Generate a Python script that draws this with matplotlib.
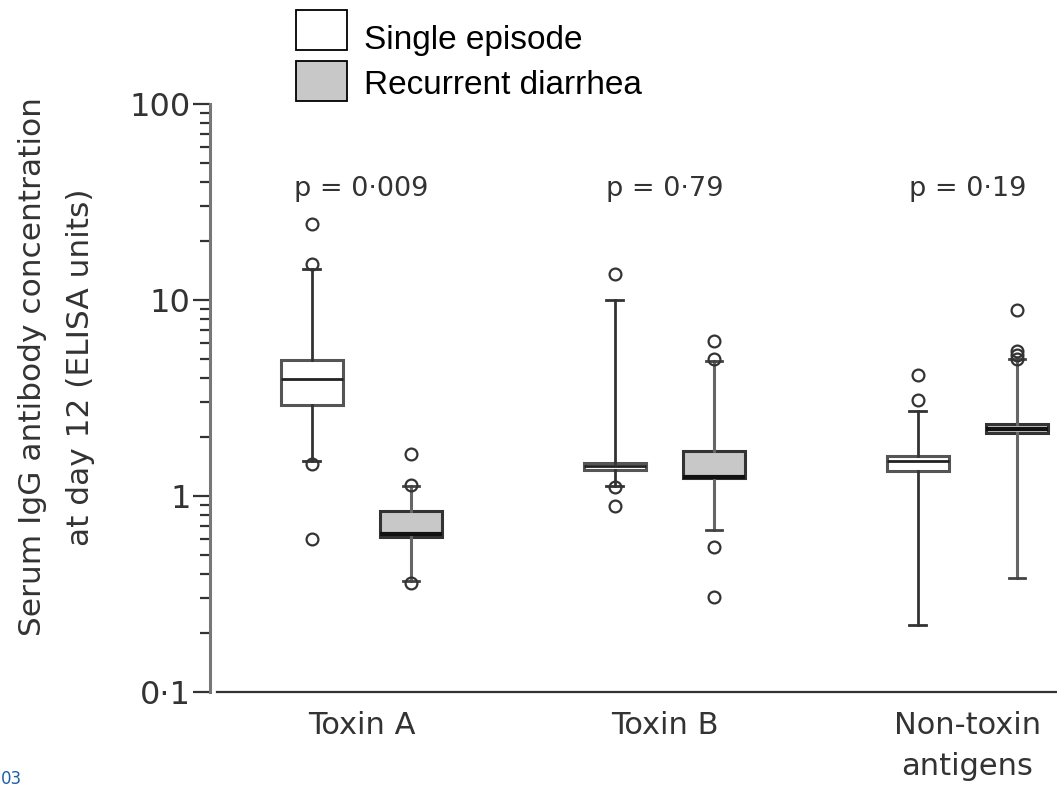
import numpy as np
import matplotlib
matplotlib.use('Agg')
import matplotlib.pyplot as plt
from matplotlib.patches import Rectangle

# groups and legend
groups = ['Toxin A', 'Toxin B', 'Non-toxin\nantigens']
p_values = ['p = 0·009', 'p = 0·79', 'p = 0·19']
series = ['Single episode', 'Recurrent diarrhea']

# box statistics (ELISA units), order: Toxin A, Toxin B, Non-toxin
single_whislo = [1.50, 1.12, 0.22]
single_q1 = [2.90, 1.35, 1.34]
single_med = [3.95, 1.42, 1.50]
single_q3 = [4.95, 1.48, 1.60]
single_whishi = [14.4, 10.0, 2.71]
single_fliers = [[24.4, 15.3, 1.46, 0.60], [13.5, 1.11, 0.89], [4.15, 3.10]]

recur_whislo = [0.37, 0.67, 0.38]
recur_q1 = [0.62, 1.23, 2.10]
recur_med = [0.64, 1.25, 2.20]
recur_q3 = [0.84, 1.70, 2.33]
recur_whishi = [1.12, 4.90, 5.00]
recur_fliers = [[1.63, 1.14, 0.36], [6.2, 5.0, 0.55, 0.305], [8.9, 5.5, 5.25, 5.0]]

y_ticks = [0.1, 1, 10, 100]
y_tick_labels = ['0·1', '1', '10', '100']


def make_stats(whislo, q1, med, q3, whishi, fliers):
    out = []
    for i in range(len(med)):
        out.append(dict(whislo=whislo[i], q1=q1[i], med=med[i], q3=q3[i],
                        whishi=whishi[i], fliers=fliers[i]))
    return out


fig = plt.figure(figsize=(10.57, 7.89), dpi=100)
ax = fig.add_axes([210 / 1057, 1 - 692 / 789, 847 / 1057, 588 / 789])

centers = np.arange(len(groups))
offset = 0.164
width = 0.205
text_col = '#333333'

flier_style = dict(marker='o', markersize=8.5, markerfacecolor='none',
                   markeredgecolor='#333333', markeredgewidth=1.6, linestyle='none')

ax.bxp(make_stats(single_whislo, single_q1, single_med, single_q3, single_whishi, single_fliers),
       positions=centers - offset, widths=width, patch_artist=True, showfliers=True,
       capwidths=0.055,
       boxprops=dict(facecolor='white', edgecolor='#555555', linewidth=2.2),
       medianprops=dict(color='#222222', linewidth=2.0),
       whiskerprops=dict(color='#333333', linewidth=2.0),
       capprops=dict(color='#333333', linewidth=2.0),
       flierprops=flier_style, manage_ticks=False)

ax.bxp(make_stats(recur_whislo, recur_q1, recur_med, recur_q3, recur_whishi, recur_fliers),
       positions=centers + offset, widths=width, patch_artist=True, showfliers=True,
       capwidths=0.055,
       boxprops=dict(facecolor='#c8c8c8', edgecolor='#333333', linewidth=2.2),
       medianprops=dict(color='#111111', linewidth=3.0),
       whiskerprops=dict(color='#666666', linewidth=2.2),
       capprops=dict(color='#444444', linewidth=2.0),
       flierprops=flier_style, manage_ticks=False)

ax.set_yscale('log')
ax.set_ylim(0.1, 100)
ax.set_xlim(-0.5, 2.296)

ax.set_yticks(y_ticks)
ax.set_yticklabels(y_tick_labels, fontsize=23, color=text_col, family='DejaVu Sans')
ax.tick_params(axis='y', which='major', length=12, width=1.6, color='#333333', pad=2)
ax.tick_params(axis='y', which='minor', length=7, width=1.6, color='#333333')
ax.yaxis.set_minor_formatter(matplotlib.ticker.NullFormatter())

ax.set_xticks(centers)
ax.set_xticklabels(groups, fontsize=22, color=text_col, family='DejaVu Sans',
                   va='top', linespacing=1.5)
ax.tick_params(axis='x', length=0, pad=14)

for side in ['top', 'right']:
    ax.spines[side].set_visible(False)
ax.spines['left'].set_color('#777777')
ax.spines['left'].set_linewidth(2.2)
ax.spines['bottom'].set_color('#333333')
ax.spines['bottom'].set_linewidth(1.6)
ax.spines['bottom'].set_bounds(-0.477, 2.296)

ax.set_ylabel('Serum IgG antibody concentration\nat day 12 (ELISA units)',
              fontsize=22.5, color=text_col, family='DejaVu Sans', linespacing=1.8)
ax.yaxis.set_label_coords(-0.136, 0.553)

for x, p in zip(centers, p_values):
    ax.text(x, 37, p, fontsize=19.5, color=text_col, ha='center', va='center',
            family='DejaVu Sans')

# legend drawn as boxes + text in figure pixels
legend_fill = ['white', '#c8c8c8']
legend_y = [30, 81]
legend_text_y = [41, 86]
for fc, y, ty, name in zip(legend_fill, legend_y, legend_text_y, series):
    fig.patches.append(Rectangle((296 / 1057, 1 - (y + 20) / 789), 51 / 1057, 40 / 789,
                                 transform=fig.transFigure, facecolor=fc,
                                 edgecolor='black', linewidth=1.3))
    fig.text(364 / 1057, 1 - ty / 789, name, fontsize=24, family='Liberation Sans',
             color='black', ha='left', va='center')

# figure reference at bottom-left edge
fig.text(1 / 1057, 1 / 789, '03', fontsize=12, color='#1f5fa8', ha='left', va='bottom')

fig.savefig('out.png', dpi=100)
